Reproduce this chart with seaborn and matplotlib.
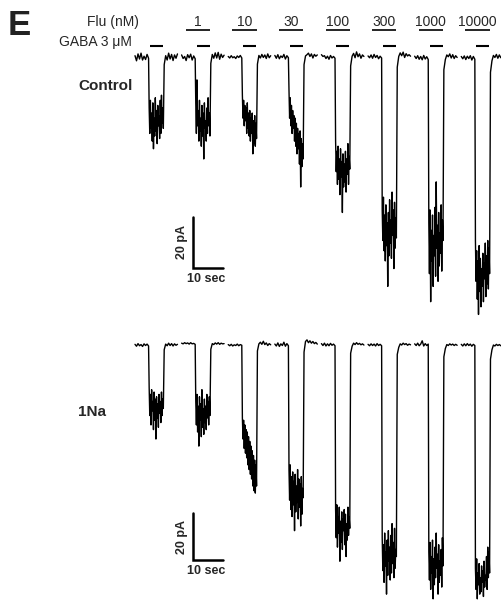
# GABA currents with flunitrazepam, control vs 1Na (panel E)

import matplotlib.pyplot as plt
import numpy as np
import pandas as pd
import seaborn as sns

flu_conc = ["1", "10", "30", "100", "300", "1000", "10000"]

# plateau currents during GABA (pA), one list per sweep
ctl_plateau = [
    [-20, -30, -17, -28, -22, -33, -18, -36, -24, -31, -16, -29, -21, -34, -19, -27, -23, -32, -17, -30, -15, -26, -20, -28],
    [-18, -30, -9, -27, -21, -33, -17, -29, -24, -35, -19, -31, -22, -40, -18, -28, -25, -33, -20, -30, -16, -27, -22, -31],
    [-15, -24, -17, -27, -19, -25, -20, -30, -18, -28, -22, -31, -21, -33, -24, -30, -22, -38, -25, -34, -23, -35, -26, -32],
    [-13, -24, -16, -27, -19, -30, -21, -28, -23, -33, -24, -35, -26, -38, -28, -36, -30, -42, -29, -51, -32, -43, -34, -40],
    [-33, -45, -37, -50, -35, -48, -40, -54, -36, -47, -41, -61, -38, -51, -42, -49, -37, -53, -40, -46, -34, -50, -39, -44],
    [-60, -72, -55, -76, -62, -80, -58, -74, -65, -90, -61, -78, -56, -73, -64, -79, -53, -70, -60, -83, -57, -75, -63, -71],
    [-65, -85, -60, -96, -68, -80, -62, -90, -70, -78, -59, -86, -49, -75, -66, -88, -61, -82, -69, -77, -58, -84, -64, -72],
    [-72, -88, -76, -95, -80, -101, -74, -92, -79, -98, -83, -90, -77, -96, -81, -87, -73, -94, -78, -89, -72, -91, -75, -85],
]
na_plateau = [
    [-18, -30, -21, -34, -19, -28, -24, -36, -20, -32, -23, -40, -22, -31, -25, -35, -21, -29, -24, -33, -20, -30, -23, -27],
    [-24, -34, -21, -37, -26, -43, -22, -32, -25, -39, -19, -35, -27, -38, -23, -33, -26, -36, -21, -31, -24, -34, -22, -30],
    [-31, -40, -32, -44, -34, -46, -36, -48, -37, -51, -39, -53, -41, -55, -43, -57, -45, -60, -47, -62, -49, -63, -51, -60],
    [-53, -66, -51, -70, -56, -73, -54, -68, -58, -79, -55, -71, -60, -67, -53, -74, -57, -69, -59, -77, -56, -72, -61, -65],
    [-70, -82, -68, -86, -73, -80, -69, -92, -75, -84, -71, -87, -74, -79, -70, -85, -72, -90, -76, -83, -69, -81, -73, -78],
    [-82, -96, -85, -101, -80, -94, -88, -106, -83, -98, -79, -92, -86, -100, -81, -97, -76, -93, -84, -99, -78, -95, -87, -90],
    [-88, -100, -84, -104, -90, -97, -83, -108, -91, -102, -86, -99, -80, -95, -89, -106, -85, -101, -92, -98, -87, -103, -82, -94],
    [-95, -104, -91, -108, -97, -102, -93, -106, -99, -105, -94, -101, -96, -107, -92, -103, -98, -100, -90, -104, -86, -99, -88, -97],
]

# baseline before / after each GABA pulse (pA)
ctl_pre = [
    [0.5, -1.5, 1.2, -0.8, 1.5, -1.2, 0.3, -1.0, 1.0, -0.5],
    [0.8, -0.6, 0.2, -1.4, 0.9, -0.3, 1.1, -1.2, 0.4, -0.7],
    [0.2, -0.4, 0.5, -0.3, 0.1, -0.6, 0.4, -0.2, 0.6, -0.4],
    [0.6, -0.5, 0.9, -0.7, 0.4, -0.2, 1.0, -0.8, 0.5, -0.3],
    [0.9, 0.2, 0.5, -0.6, 0.3, -0.9, 0.6, -0.4, 0.2, -0.5],
    [0.4, -0.3, 0.8, -0.5, 1.0, -0.2, 0.6, -0.7, 0.3, -0.4],
    [0.3, -0.6, 0.5, -0.9, 0.2, -1.1, 0.6, -0.8, 0.1, -1.0],
    [0.2, -0.7, 0.4, -1.0, 0.3, -0.6, 0.5, -1.2, 0.2, -0.9],
]
ctl_post = [
    [-3.0, 0.5, -1.2, 1.5, -0.8, 1.0, -1.4, 0.8, -0.5, 1.2],
    [-2.5, 1.0, -0.5, 1.6, -0.4, 1.8, -0.9, 1.1, -0.2, 0.7],
    [-2.8, 0.6, -0.4, 1.0, -0.2, 0.8, -0.6, 1.2, -0.3, 0.5],
    [-3.0, 0.4, 0.9, 1.5, 0.2, 1.2, -0.4, 1.0, 0.3, 0.8],
    [-3.5, 0.3, 1.4, -0.3, 2.0, 0.1, 1.2, -0.5, 0.8, 0.2],
    [-4.0, 0.2, 1.6, 0.5, 1.9, -0.2, 1.3, 0.4, 0.9, 0.3],
    [-5.0, -1.0, 0.8, 0.1, 1.2, -0.4, 0.9, -0.6, 0.5, -0.2],
    [-6.0, -1.5, 0.6, -0.2, 1.0, -0.5, 0.8, -0.3, 0.6, 0.1],
]
na_pre = [
    [0.3, -0.5, 0.6, -0.3, 0.2, -0.6, 0.5, -0.2, 0.4, -0.4],
    [0.8, 0.5, 1.0, 0.6, 0.9, 0.4, 1.0, 0.5, 0.7, 0.3],
    [0.2, -0.3, 0.3, -0.4, 0.1, -0.2, 0.4, -0.3, 0.2, -0.1],
    [0.4, -0.4, 0.9, -0.6, 0.5, -0.2, 1.2, -0.5, 0.6, -0.3],
    [0.6, -0.2, 0.8, -0.4, 0.5, -0.3, 0.7, -0.1, 0.4, -0.3],
    [0.3, -0.3, 0.5, -0.2, 0.4, -0.4, 0.6, -0.2, 0.3, -0.3],
    [0.5, -0.2, 0.8, -0.3, 0.4, 1.8, -0.4, 0.6, -0.2, 0.4],
    [0.3, -0.4, 0.5, -0.3, 0.6, -0.2, 0.4, -0.5, 0.3, -0.2],
]
na_post = [
    [-2.0, 0.4, -0.3, 0.8, -0.2, 0.6, -0.4, 0.5, -0.1, 0.3],
    [-1.8, 0.6, 0.2, 0.9, 0.4, 1.0, 0.3, 0.8, 0.5, 0.6],
    [-2.5, 0.5, 1.2, 0.3, 1.6, 0.2, 0.9, -0.2, 0.6, 0.1],
    [-3.0, 1.5, 2.2, 1.0, 1.8, 0.8, 1.5, 0.6, 1.1, 0.4],
    [-3.5, -0.5, 0.8, 0.2, 1.0, 0.3, 0.7, 0.1, 0.5, 0.0],
    [-4.0, -1.0, 0.5, 0.0, 0.8, 0.2, 0.6, -0.1, 0.4, 0.1],
    [-5.0, -1.5, 0.2, -0.2, 0.5, 0.0, 0.4, -0.2, 0.3, -0.1],
    [-6.0, -2.0, 0.0, -0.4, 0.3, -0.2, 0.2, -0.3, 0.1, -0.2],
]

# sweep timing (s)
period = 15.8
t_on, t_off, t_end = 4.7, 9.7, 14.4


def build(pre, plateau, post):
    rows = []
    for k in range(len(plateau)):
        t0 = k * period
        tp = np.concatenate([
            np.linspace(0, t_on - 0.1, len(pre[k])),
            np.linspace(t_on + 0.1, t_off - 0.1, len(plateau[k])),
            np.linspace(t_off + 0.2, t_end, len(post[k])),
        ]) + t0
        cur = list(pre[k]) + list(plateau[k]) + list(post[k])
        rows.append(pd.DataFrame({"t": tp, "I": cur, "sweep": k}))
    return pd.concat(rows, ignore_index=True)


ctl = build(ctl_pre, ctl_plateau, ctl_post)
na = build(na_pre, na_plateau, na_post)

sns.set_style("white")
plt.rcParams['font.family'] = ['Liberation Sans', 'DejaVu Sans']

W, H = 501, 600
fig = plt.figure(figsize=(5.01, 6.0), dpi=100)
px_s = 2.95
x0 = 135
xlim = (-x0 / px_s, (W - x0) / px_s)

ax1 = fig.add_axes([0, (H - 330) / H, 1, 330 / H])
ax2 = fig.add_axes([0, 0, 1, 270 / H])

sns.lineplot(data=ctl, x="t", y="I", units="sweep", estimator=None, sort=False,
             color="k", lw=1.0, ax=ax1)
sns.lineplot(data=na, x="t", y="I", units="sweep", estimator=None, sort=False,
             color="k", lw=1.0, ax=ax2)

ax1.set_xlim(xlim)
ax1.set_ylim(-107.1, 22.35)
ax2.set_xlim(xlim)
ax2.set_ylim(-108.5, 6.4)

# GABA and Flu application bars
for k in range(len(ctl_plateau)):
    t0 = k * period
    ax1.plot([t0 + 5.1, t0 + 9.5], [4.3, 4.3], color="k", lw=1.5, solid_capstyle="butt")
for k, c in enumerate(flu_conc, start=1):
    t0 = k * period
    ax1.plot([t0 + 1.4, t0 + 9.6], [10.6, 10.6], color="k", lw=1.2, solid_capstyle="butt")
    ax1.text(t0 + 5.5, 12.2, c, ha="center", va="baseline", fontsize=10)

# scale bars
for ax, yb, ly, ty in [(ax1, -82.7, -72.5, -87.0), (ax2, -91.5, -81.7, -96.2)]:
    ax.plot([19.7, 19.7, 29.7], [yb + 20, yb, yb], color="k", lw=1.8, solid_joinstyle="miter")
    ax.text(15.9, ly, "20 pA", rotation=90, ha="center", va="center",
            fontsize=9, fontweight="bold")
    ax.text(24.0, ty, "10 sec", ha="center", va="center", fontsize=9, fontweight="bold")

for ax in (ax1, ax2):
    ax.set_axis_off()

fig.text(8 / W, 1 - 25.5 / H, "E", fontsize=25, fontweight="bold", color="#222222",
         ha="left", va="center")
fig.text(139 / W, 1 - 22 / H, "Flu (nM)", fontsize=10, ha="right", va="center")
fig.text(132 / W, 1 - 42 / H, "GABA 3 μM", fontsize=10, ha="right", va="center")
fig.text(78 / W, 1 - 86 / H, "Control", fontsize=11, fontweight="bold", ha="left", va="center")
fig.text(78 / W, 1 - 412 / H, "1Na", fontsize=11, fontweight="bold", ha="left", va="center")

fig.savefig("out.png", dpi=100, facecolor="white")
